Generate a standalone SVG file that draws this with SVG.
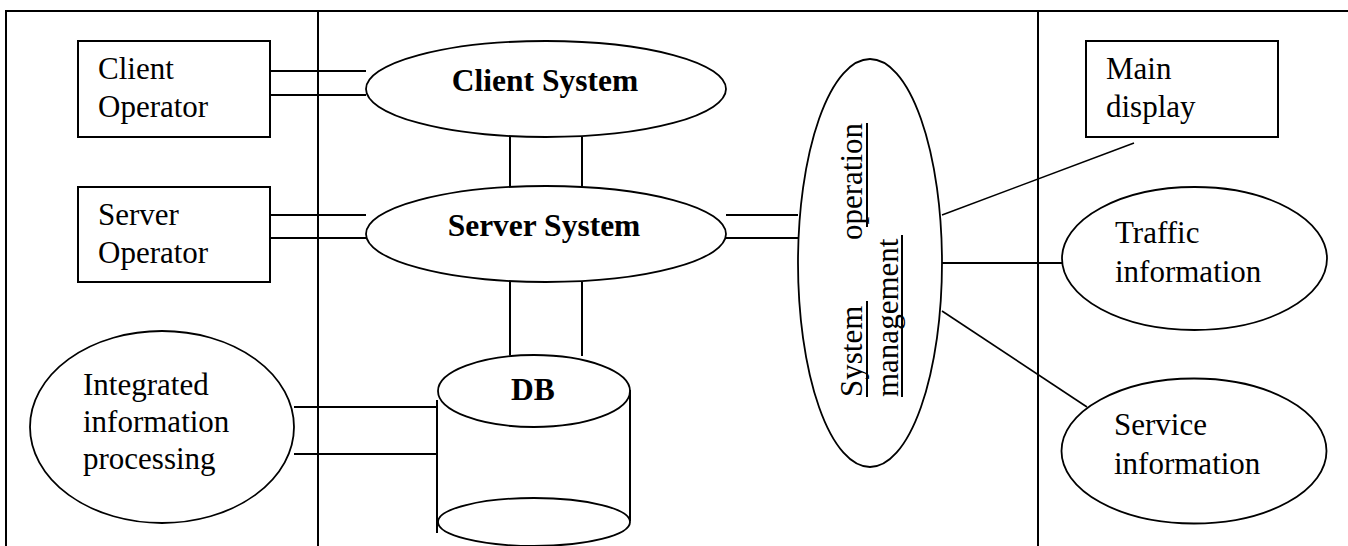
<svg xmlns="http://www.w3.org/2000/svg" width="1348" height="546" viewBox="0 0 1348 546">
<style>
.s{fill:none;stroke:#000;stroke-width:2}
.e{fill:#fff;stroke:#000;stroke-width:1.8}
.t{font-family:"Liberation Serif","Times New Roman",serif;font-size:31px;fill:#000}
.b{font-family:"Liberation Serif","Times New Roman",serif;font-size:31.5px;font-weight:bold;fill:#000;text-anchor:middle}
</style>
<rect width="1348" height="546" fill="#fff"/>
<g id="frame" class="s">
<line x1="6" y1="11" x2="1348" y2="11"/>
<line x1="6" y1="10" x2="6" y2="546"/>
<line x1="318" y1="11" x2="318" y2="546"/>
<line x1="1038" y1="11" x2="1038" y2="546"/>
</g>
<g id="connectors" class="s">
<line x1="270" y1="71" x2="366" y2="71"/>
<line x1="270" y1="95" x2="366" y2="95"/>
<line x1="270" y1="215" x2="366" y2="215"/>
<line x1="270" y1="238" x2="366" y2="238"/>
<line x1="510" y1="137" x2="510" y2="187"/>
<line x1="582" y1="137" x2="582" y2="187"/>
<line x1="510" y1="282" x2="510" y2="355"/>
<line x1="582" y1="282" x2="582" y2="356"/>
<line x1="726" y1="215" x2="798" y2="215"/>
<line x1="726" y1="238" x2="798" y2="238"/>
<line x1="294" y1="407" x2="437" y2="407"/>
<line x1="294" y1="454" x2="437" y2="454"/>
<line x1="942" y1="215" x2="1134" y2="143" stroke-width="1.6"/>
<line x1="942" y1="263" x2="1062" y2="263"/>
<line x1="942" y1="311" x2="1087" y2="407" stroke-width="1.6"/>
</g>
<g id="client-operator">
<rect class="s" x="78" y="41" width="192" height="96"/>
<text class="t" x="98" y="79">Client</text>
<text class="t" x="98" y="117">Operator</text>
</g>
<g id="server-operator">
<rect class="s" x="78" y="187" width="192" height="95"/>
<text class="t" x="98" y="225">Server</text>
<text class="t" x="98" y="263">Operator</text>
</g>
<g id="client-system">
<ellipse class="e" cx="546" cy="89" rx="180" ry="48"/>
<text class="b" x="545" y="91">Client System</text>
</g>
<g id="server-system">
<ellipse class="e" cx="546" cy="234" rx="180" ry="48"/>
<text class="b" x="544" y="236">Server System</text>
</g>
<g id="system-operation-management">
<ellipse class="e" cx="870" cy="263" rx="72" ry="204"/>
<text class="t" transform="translate(862,397) rotate(-90)" x="0" y="0">System</text>
<text class="t" transform="translate(862,397) rotate(-90)" x="274" y="0" text-anchor="end">operation</text>
<text class="t" transform="translate(898,397) rotate(-90)" x="0" y="0">management</text>
<g class="s" stroke-width="1.8">
<line x1="867" y1="123" x2="867" y2="227"/>
<line x1="867" y1="301" x2="867" y2="397"/>
<line x1="902" y1="235" x2="902" y2="397"/>
</g>
</g>
<g id="main-display">
<rect class="s" x="1086" y="41" width="192" height="96"/>
<text class="t" x="1106" y="79">Main</text>
<text class="t" x="1106" y="117">display</text>
</g>
<g id="traffic-information">
<ellipse class="e" cx="1194.5" cy="258.5" rx="132.5" ry="71.5"/>
<text class="t" x="1115" y="243">Traffic</text>
<text class="t" x="1115" y="282">information</text>
</g>
<g id="service-information">
<ellipse class="e" cx="1194" cy="451" rx="132.5" ry="72.5"/>
<text class="t" x="1114" y="435">Service</text>
<text class="t" x="1114" y="474">information</text>
</g>
<g id="integrated-information-processing">
<ellipse class="e" cx="162" cy="427" rx="132" ry="96"/>
<text class="t" x="83" y="395">Integrated</text>
<text class="t" x="83" y="432">information</text>
<text class="t" x="83" y="469">processing</text>
</g>
<g id="db">
<line class="s" x1="437" y1="400" x2="437" y2="533"/>
<line class="s" x1="630" y1="390" x2="630" y2="521"/>
<ellipse class="e" cx="534" cy="522" rx="96" ry="24" fill="none"/>
<ellipse class="e" cx="534" cy="391" rx="96" ry="36"/>
<text class="b" x="533" y="400">DB</text>
</g>
</svg>
